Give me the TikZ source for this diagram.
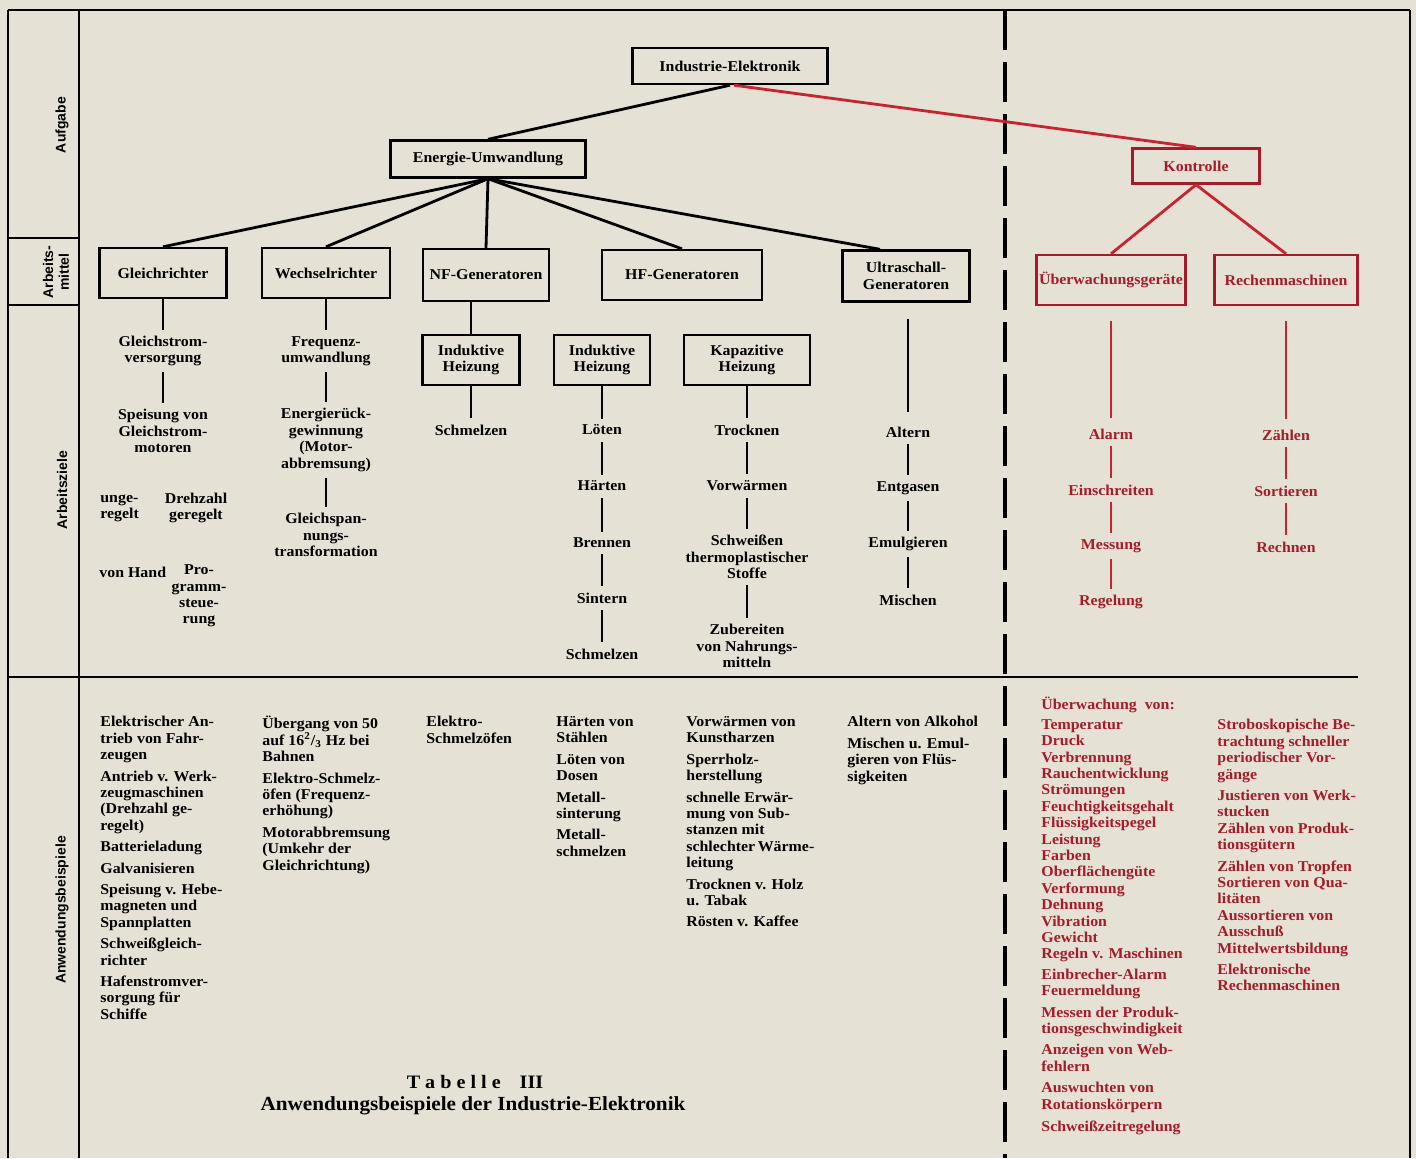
\documentclass[tikz,border=0pt]{standalone}
\usepackage{fontspec}
\setmainfont{Liberation Serif}[FakeStretch=1.06]
\newfontfamily\sidefont{Liberation Sans}
\usepackage{tikz}
\usetikzlibrary{positioning,calc}
\definecolor{paper}{RGB}{229,225,213}
\definecolor{ctrl}{RGB}{165,28,40}
\definecolor{ctrlline}{RGB}{200,35,48}

\begin{document}
\begin{tikzpicture}[x=0.5pt,y=-0.5pt,
    box/.style={draw,line width=1.2pt,inner sep=1pt,align=center,minimum height=25pt,font=\fontsize{7.5}{8.2}\selectfont\bfseries},
    aim/.style={align=center,inner sep=3pt,font=\fontsize{7.5}{8.2}\selectfont\bfseries},
    link/.style={line width=1.4pt},
    ctrlbox/.style={box,draw=ctrl,text=ctrl},
    ctrlaim/.style={aim,text=ctrl},
    ctrllink/.style={link,draw=ctrlline},
    use/.style={anchor=north west,align=left,inner sep=0pt,font=\fontsize{7.5}{8.2}\selectfont\bfseries},
    side/.style={rotate=90,align=center,font=\sidefont\fontsize{7}{7.8}\selectfont\bfseries},
    frame/.style={line width=1.1pt}]
    \fill[paper] (0,0) rectangle (1416,1158);
    \useasboundingbox (0,0) rectangle (1416,1158);

    % Frame
    \draw[frame] (8,10) -- (1410,10);
    \draw[frame] (8,10) -- (8,1158);
    \draw[frame] (79,10) -- (79,1158);
    \draw[frame] (1410,10) -- (1410,1158);
    \draw[frame] (8,238) -- (79,238);
    \draw[frame] (8,305) -- (79,305);
    \draw[frame] (8,677) -- (1358,677);
    \draw[line width=2pt,dash pattern=on 20pt off 6pt] (1005,10) -- (1005,1158);

    % Row labels
    \node[side] (lblAufgabe) at (62,125) {Aufgabe};
    \node[side] (lblMittel) at (56,272) {Arbeits-\\mittel};
    \node[side] (lblZiele) at (62,490) {Arbeitsziele};
    \node[side] (lblBeispiele) at (62,910) {Anwendungsbeispiele};

    % Task and means
    \node[box,minimum width=97.5pt,minimum height=18pt] (ie) at (730,66) {Industrie-Elektronik};
    \node[box,minimum width=97.5pt,minimum height=18.5pt] (eu) at (488,159) {Energie-Umwandlung};
    \node[ctrlbox,minimum width=63.5pt,minimum height=17.5pt] (ko) at (1196,166) {Kontrolle};
    \node[box,minimum width=63.5pt] (gr) at (163,273) {Gleichrichter};
    \node[box,minimum width=64pt] (wr) at (326,273) {Wechselrichter};
    \node[box,minimum width=63pt,minimum height=26pt] (nf) at (486,275) {NF-Generatoren};
    \node[box,minimum width=80pt] (hf) at (682,275) {HF-Generatoren};
    \node[box,minimum width=63.5pt,minimum height=25.5pt] (us) at (906,276) {Ultraschall-\\Generatoren};
    \node[ctrlbox,minimum width=74.5pt,inner sep=0.5pt] (ue) at (1111,280) {Überwachungsgeräte};
    \node[ctrlbox,minimum width=71.5pt] (rm) at (1286,280) {Rechenmaschinen};
    \node[box,minimum width=48.5pt] (ihnf) at (471,360) {Induktive\\Heizung};
    \node[box,minimum width=48pt] (ihhf) at (602,360) {Induktive\\Heizung};
    \node[box,minimum width=63pt] (kh) at (747,360) {Kapazitive\\Heizung};

    \draw[link] (ie.south) -- (eu.north);
    \draw[ctrllink] ([xshift=2pt]ie.south) -- (ko.north);
    \foreach \m in {gr,wr,nf,hf}
        \draw[link] (eu.south) -- (\m.north);
    \draw[link] (eu.south) -- ([xshift=-13pt]us.north);
    \draw[ctrllink] (ko.south) -- (ue.north);
    \draw[ctrllink] (ko.south) -- (rm.north);
    \draw[link] (ihnf.north) -- (ihnf.north |- nf.south);

    % Goals
    \node[aim] (g1) at (163,351) {Gleichstrom-\\versorgung};
    \node[aim] (g2) at (163,431) {Speisung von\\Gleichstrom-\\motoren};
    \node[aim,align=left,anchor=west,inner sep=0pt] (g3a) at (100,508) {unge-\\regelt};
    \node[aim] (g3b) at (196,508) {Drehzahl\\geregelt};
    \node[aim,anchor=west,inner sep=0pt] (g4a) at (99,572) {von Hand};
    \node[aim] (g4b) at (199,596) {Pro-\\gramm-\\steue-\\rung};
    \draw[link] (gr) -- (g1);
    \draw[link] (g1) -- (g2);

    \node[aim] (w1) at (326,351) {Frequenz-\\umwandlung};
    \node[aim] (w2) at (326,440) {Energierück-\\gewinnung\\(Motor-\\abbremsung)};
    \node[aim] (w3) at (326,535) {Gleichspan-\\nungs-\\transformation};
    \draw[link] (wr) -- (w1);
    \draw[link] (w1) -- (w2);
    \draw[link] (w2) -- (w3);

    \node[aim] (n1) at (471,430) {Schmelzen};
    \draw[link] (ihnf) -- (n1);

    \node[aim] (h1) at (602,430) {Löten};
    \node[aim] (h2) at (602,486) {Härten};
    \node[aim] (h3) at (602,543) {Brennen};
    \node[aim] (h4) at (602,598) {Sintern};
    \node[aim] (h5) at (602,654) {Schmelzen};
    \draw[link] (ihhf) -- (h1);
    \draw[link] (h1) -- (h2);
    \draw[link] (h2) -- (h3);
    \draw[link] (h3) -- (h4);
    \draw[link] (h4) -- (h5);

    \node[aim] (k1) at (747,430) {Trocknen};
    \node[aim] (k2) at (747,486) {Vorwärmen};
    \node[aim] (k3) at (747,557) {Schweißen\\thermoplastischer\\Stoffe};
    \node[aim] (k4) at (747,646) {Zubereiten\\von Nahrungs-\\mitteln};
    \draw[link] (kh) -- (k1);
    \draw[link] (k1) -- (k2);
    \draw[link] (k2) -- (k3);
    \draw[link] (k3) -- (k4);

    \node[aim] (u1) at (908,432) {Altern};
    \node[aim] (u2) at (908,488) {Entgasen};
    \node[aim] (u3) at (908,544) {Emulgieren};
    \node[aim] (u4) at (908,600) {Mischen};
    \draw[link,shorten <=8pt,shorten >=4pt] (us.south -| u1) -- (u1);
    \draw[link] (u1) -- (u2);
    \draw[link] (u2) -- (u3);
    \draw[link] (u3) -- (u4);

    \node[ctrlaim] (a1) at (1111,434) {Alarm};
    \node[ctrlaim] (a2) at (1111,490) {Einschreiten};
    \node[ctrlaim] (a3) at (1111,546) {Messung};
    \node[ctrlaim] (a4) at (1111,602) {Regelung};
    \draw[ctrllink,shorten <=7.5pt,shorten >=2pt] (ue) -- (a1);
    \draw[ctrllink] (a1) -- (a2);
    \draw[ctrllink] (a2) -- (a3);
    \draw[ctrllink] (a3) -- (a4);

    \node[ctrlaim] (r1) at (1286,435) {Zählen};
    \node[ctrlaim] (r2) at (1286,491) {Sortieren};
    \node[ctrlaim] (r3) at (1286,547) {Rechnen};
    \draw[ctrllink,shorten <=7.5pt,shorten >=2pt] (rm) -- (r1);
    \draw[ctrllink] (r1) -- (r2);
    \draw[ctrllink] (r2) -- (r3);

    % Examples
    \node[use] (ex1) at (100,716) {Elektrischer An-\\trieb von Fahr-\\zeugen\\[2.5pt]
        Antrieb v. Werk-\\zeugmaschinen\\(Drehzahl ge-\\regelt)\\[2.5pt]
        Batterieladung\\[2.5pt]Galvanisieren\\[2.5pt]
        Speisung v. Hebe-\\magneten und\\Spannplatten\\[2.5pt]
        Schweißgleich-\\richter\\[2.5pt]
        Hafenstromver-\\sorgung für\\Schiffe};
    \node[use] (ex2) at (262,716) {Übergang von 50\\auf 16\textsuperscript{2}/\textsubscript{3} Hz bei\\Bahnen\\[2.5pt]
        Elektro-Schmelz-\\öfen (Frequenz-\\erhöhung)\\[2.5pt]
        Motorabbremsung\\(Umkehr der\\Gleichrichtung)};
    \node[use] (ex3) at (426,716) {Elektro-\\Schmelzöfen};
    \node[use] (ex4) at (556,716) {Härten von\\Stählen\\[2.5pt]Löten von\\Dosen\\[2.5pt]
        Metall-\\sinterung\\[2.5pt]Metall-\\schmelzen};
    \node[use] (ex5) at (686,716) {Vorwärmen von\\Kunstharzen\\[2.5pt]Sperrholz-\\herstellung\\[2.5pt]
        schnelle Erwär-\\mung von Sub-\\stanzen mit\\schlechter\,Wärme-\\leitung\\[2.5pt]
        Trocknen v. Holz\\u. Tabak\\[2.5pt]Rösten v. Kaffee};
    \node[use] (ex6) at (847,716) {Altern von Alkohol\\[2.5pt]
        Mischen u. Emul-\\gieren von Flüs-\\sigkeiten};

    \node[use,text=ctrl] (ex7head) at (1041,697) {Überwachung~~von:};
    \node[use,text=ctrl] (ex7) at (1041,719) {Temperatur\\Druck\\Verbrennung\\Rauchentwicklung\\
        Strömungen\\Feuchtigkeitsgehalt\\Flüssigkeitspegel\\Leistung\\Farben\\
        Oberflächengüte\\Verformung\\Dehnung\\Vibration\\Gewicht\\
        Regeln v. Maschinen\\[2pt]Einbrecher-Alarm\\Feuermeldung\\[2.5pt]
        Messen der Produk-\\tionsgeschwindigkeit\\[2.5pt]
        Anzeigen von Web-\\fehlern\\[2.5pt]
        Auswuchten von\\Rotationskörpern\\[3pt]
        Schweißzeitregelung};
    \node[use,text=ctrl] (ex8) at (1217,719) {Stroboskopische Be-\\trachtung schneller\\periodischer Vor-\\gänge\\[2.5pt]
        Justieren von Werk-\\stucken\\Zählen von Produk-\\tionsgütern\\[2.5pt]
        Zählen von Tropfen\\Sortieren von Qua-\\litäten\\Aussortieren von\\Ausschuß\\
        Mittelwertsbildung\\[2.5pt]Elektronische\\Rechenmaschinen};

    % Caption
    \node[font=\fontsize{9.5}{10}\selectfont\bfseries] (tabno) at (475,1082) {T a b e l l e\quad III};
    \node[font=\fontsize{10}{11}\selectfont\bfseries] (tabtitle) at (473,1106) {Anwendungsbeispiele der Industrie-Elektronik};
\end{tikzpicture}
\end{document}
